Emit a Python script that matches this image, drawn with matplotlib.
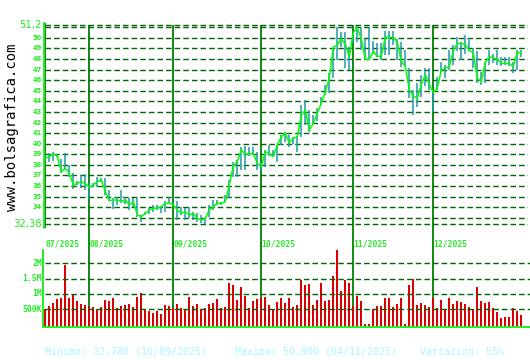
import matplotlib
matplotlib.use("Agg")
import matplotlib.pyplot as plt
import numpy as np

# daily closes, 17/07/2025 .. 31/12/2025
close = [
    38.62, 38.78, 39.03, 38.84, 37.36, 37.68, 37.21, 36.10, 36.26, 36.42,
    36.26, 35.88, 36.10, 36.42, 36.58, 35.48, 34.63, 34.69, 34.69, 34.53,
    34.69, 34.22, 34.53, 33.30, 33.12, 33.43, 33.75, 33.90, 33.90, 34.06,
    34.38, 34.38, 34.22, 33.75, 33.43, 33.59, 33.27, 33.43, 32.96, 32.78,
    32.96, 33.75, 34.06, 34.38, 34.38, 34.53, 36.10, 37.90, 38.30, 39.40,
    39.03, 39.03, 39.09, 38.15, 37.83, 39.25, 39.09, 38.78, 39.88, 40.66,
    40.98, 40.10, 40.51, 40.66, 42.71, 43.18, 41.29, 41.92, 42.87, 43.81,
    44.91, 46.20, 49.10, 49.30, 49.90, 49.40, 48.20, 50.50, 50.90, 49.90,
    47.96, 47.96, 48.68, 48.25, 48.25, 50.03, 50.03, 50.03, 49.55, 47.80,
    47.30, 45.10, 44.50, 44.30, 45.60, 46.50, 45.62, 44.83, 45.21, 46.95,
    47.14, 47.27, 48.76, 49.47, 49.45, 49.36, 48.79, 48.60, 46.17, 45.85,
    47.66, 48.24, 48.10, 47.96, 47.58, 47.58, 47.58, 47.30, 48.64, 48.55,
]
high = [
    38.90, 39.10, 39.25, 39.00, 38.60, 39.10, 38.00, 37.20, 36.50, 37.05,
    37.15, 36.30, 36.30, 36.90, 36.80, 36.75, 35.65, 34.85, 34.95, 35.65,
    34.95, 34.85, 34.85, 34.85, 33.30, 33.60, 33.90, 34.20, 34.20, 34.10,
    34.55, 34.95, 34.50, 34.55, 34.05, 33.90, 34.05, 33.60, 33.45, 33.30,
    32.95, 34.20, 34.70, 34.70, 34.50, 35.15, 36.60, 38.30, 38.45, 39.70,
    39.80, 39.70, 39.70, 39.25, 38.30, 39.40, 39.90, 39.40, 39.90, 40.80,
    41.10, 40.80, 40.60, 40.70, 43.65, 44.10, 43.20, 42.70, 43.35, 44.45,
    45.55, 46.65, 49.00, 51.00, 50.55, 50.55, 49.15, 50.60, 51.10, 51.00,
    49.85, 51.00, 49.65, 49.50, 49.50, 50.60, 50.60, 50.60, 49.85, 49.60,
    48.85, 47.10, 45.05, 45.70, 46.50, 47.10, 47.10, 44.85, 46.30, 47.75,
    47.40, 48.85, 49.30, 50.10, 49.60, 50.25, 49.95, 49.00, 48.70, 46.80,
    47.70, 48.85, 48.50, 48.85, 48.20, 48.20, 48.20, 47.75, 48.85, 48.85,
]
low = [
    38.40, 38.30, 38.40, 38.70, 37.20, 37.50, 36.90, 35.70, 36.10, 35.80,
    35.60, 34.80, 35.90, 35.95, 36.40, 35.15, 34.60, 33.80, 34.20, 34.40,
    34.30, 33.75, 34.05, 33.10, 32.65, 33.30, 33.40, 33.60, 33.70, 33.50,
    33.60, 34.30, 34.10, 32.80, 33.30, 32.80, 32.95, 32.80, 32.65, 32.50,
    32.40, 33.10, 33.75, 34.20, 34.20, 34.50, 34.90, 36.90, 36.90, 37.50,
    37.50, 38.80, 38.90, 37.50, 37.40, 37.80, 38.80, 38.70, 38.30, 39.90,
    40.20, 39.70, 40.00, 39.25, 40.66, 41.75, 41.10, 41.90, 42.10, 43.65,
    44.60, 44.75, 46.20, 47.90, 49.15, 47.10, 46.95, 49.50, 49.60, 48.85,
    47.90, 47.90, 48.50, 48.20, 47.90, 48.35, 48.35, 49.30, 47.90, 47.25,
    47.25, 44.30, 42.70, 43.50, 44.45, 45.40, 45.10, 43.00, 45.10, 46.80,
    46.20, 46.95, 47.40, 48.70, 47.90, 48.50, 48.70, 47.10, 45.70, 45.55,
    45.70, 47.40, 47.60, 47.40, 47.30, 47.40, 47.30, 46.65, 46.95, 48.20,
]
# volume in millions
volume = [
    0.50, 0.61, 0.71, 0.84, 0.87, 1.95, 0.87, 1.00, 0.77, 0.67,
    0.64, 0.60, 0.58, 0.51, 0.58, 0.80, 0.77, 0.87, 0.53, 0.61,
    0.64, 0.67, 0.58, 0.90, 1.03, 0.51, 0.45, 0.38, 0.45, 0.35,
    0.64, 0.61, 0.55, 0.67, 0.54, 0.48, 0.90, 0.61, 0.67, 0.51,
    0.54, 0.67, 0.71, 0.84, 0.54, 0.58, 1.36, 1.29, 0.80, 1.23,
    0.93, 0.54, 0.77, 0.84, 0.86, 0.90, 0.64, 0.51, 0.74, 0.87,
    0.71, 0.87, 0.58, 0.64, 1.46, 1.29, 1.33, 0.64, 0.80, 1.36,
    0.77, 0.80, 1.59, 2.43, 1.10, 1.46, 1.36, 0.60, 0.93, 0.77,
    0.02, 0.02, 0.50, 0.61, 0.61, 0.87, 0.87, 0.58, 0.67, 0.87,
    0.02, 1.29, 1.49, 0.64, 0.71, 0.64, 0.58, 0.88, 0.54, 0.80,
    0.51, 0.87, 0.67, 0.77, 0.74, 0.67, 0.58, 0.51, 1.23, 0.77,
    0.71, 0.74, 0.54, 0.41, 0.22, 0.25, 0.25, 0.54, 0.45, 0.32,
]
month_idx = [0, 11, 32, 54, 77, 97]
month_labels = ["07/2025", "08/2025", "09/2025", "10/2025", "11/2025", "12/2025"]
price_grid = list(range(33, 52)) + [51.2, 32.38]
price_ticks = list(range(34, 51))
vol_ticks = [0.5, 1.0, 1.5, 2.0]
vol_labels = ["500K", "1M", "1.5M", "2M"]
footer = ["Minimo: 32,780 (10/09/2025)", "Maximo: 50,900 (04/11/2025)",
          "Variación: 55%"]

LIME = "#22ee22"
LINE = "#00ff00"
TEAL = "#1e9aa8"
DKGREEN = "#006400"
MONTH = "#008000"
RED = "#dd0000"
FOOT = "#aaf6ff"
W, H = 530, 360
plt.rcParams["lines.scale_dashes"] = False
DASH = (0, (4.0, 2.2))


def box(l, t, r, b):
    return [l / W, 1 - b / H, (r - l) / W, (b - t) / H]


x = np.arange(len(close))
fig = plt.figure(figsize=(W / 100, H / 100), dpi=100)
fig.patch.set_facecolor("white")

# overlay for the month separators spanning both panels
ax_m = fig.add_axes(box(43.3, 25, 530, 327))
ax_m.set_xlim(-0.5, 121.2)
ax_m.set_ylim(0, 1)
ax_m.axis("off")
for m in month_idx[1:]:
    ax_m.axvline(m, color=MONTH, lw=1.3)

# price panel
ax = fig.add_axes(box(43.5, 23, 528, 228))
ax.patch.set_alpha(0)
ax.set_xlim(-0.45, 120.68)
ax.set_ylim(32.047, 51.387)
for s in ["top", "right", "bottom"]:
    ax.spines[s].set_visible(False)
ax.spines["left"].set_color(LIME)
ax.spines["left"].set_linewidth(1.3)
ax.set_xticks([])
ax.set_yticks([])
for g in price_grid:
    ax.axhline(g, xmin=0.004, color=DKGREEN, lw=1.0, linestyle=DASH, zorder=1)
ax.axvline(month_idx[0], color=MONTH, lw=1.3, zorder=1)
ax.vlines(x, low, high, color=TEAL, lw=1.1, zorder=2)
ax.plot(x, close, color=LINE, lw=1.1, zorder=3)
tr = ax.get_yaxis_transform()
for t in price_ticks:
    ax.text(-0.004, t, str(t), transform=tr, ha="right", va="center",
            fontsize=4.8, fontweight="bold", color=LIME)
ax.text(-0.004, 51.2, "51,2", transform=tr, ha="right", va="center",
        fontsize=7.3, color=LIME)
ax.text(-0.004, 32.38, "32,38", transform=tr, ha="right", va="center",
        fontsize=7.3, color=LIME)

# volume panel
av = fig.add_axes(box(43.3, 250, 530, 326.7))
av.patch.set_alpha(0)
av.set_xlim(-0.5, 121.2)
av.set_ylim(-0.068, 2.432)
for s in ["top", "right"]:
    av.spines[s].set_visible(False)
for s in ["left", "bottom"]:
    av.spines[s].set_color(LIME)
    av.spines[s].set_linewidth(1.4)
av.set_xticks([])
av.set_yticks([])
for g in vol_ticks:
    av.axhline(g, xmin=0.004, color=DKGREEN, lw=1.0, linestyle=DASH, zorder=1)
av.vlines(x, -0.068, volume, color=RED, lw=1.1, zorder=0.5,
          antialiased=False)
vtr = av.get_yaxis_transform()
for g, lab in zip(vol_ticks, vol_labels):
    av.text(-0.003, g, lab, transform=vtr, ha="right", va="center",
            fontsize=5.8, fontweight="bold", color=LIME,
            family="DejaVu Sans Mono")
xtr = av.get_xaxis_transform()
for m, lab in zip(month_idx, month_labels):
    av.text(m + 0.1, 1.08, lab, transform=xtr, ha="left", va="center",
            fontsize=5.8, fontweight="bold", color=LIME,
            family="DejaVu Sans Mono", clip_on=False)

# footer and watermark
for fx, txt in zip([45, 235, 420], footer):
    fig.text(fx / W, 1 - 352 / H, txt, ha="left", va="center", fontsize=7.2,
             color=FOOT, family="DejaVu Sans Mono")
fig.text(12 / W, 1 - 127 / H, "www.bolsagrafica.com", rotation=90,
         ha="center", va="center", fontsize=10, color="black",
         family="DejaVu Sans Mono")

fig.savefig("out.png", dpi=100, facecolor="white")
